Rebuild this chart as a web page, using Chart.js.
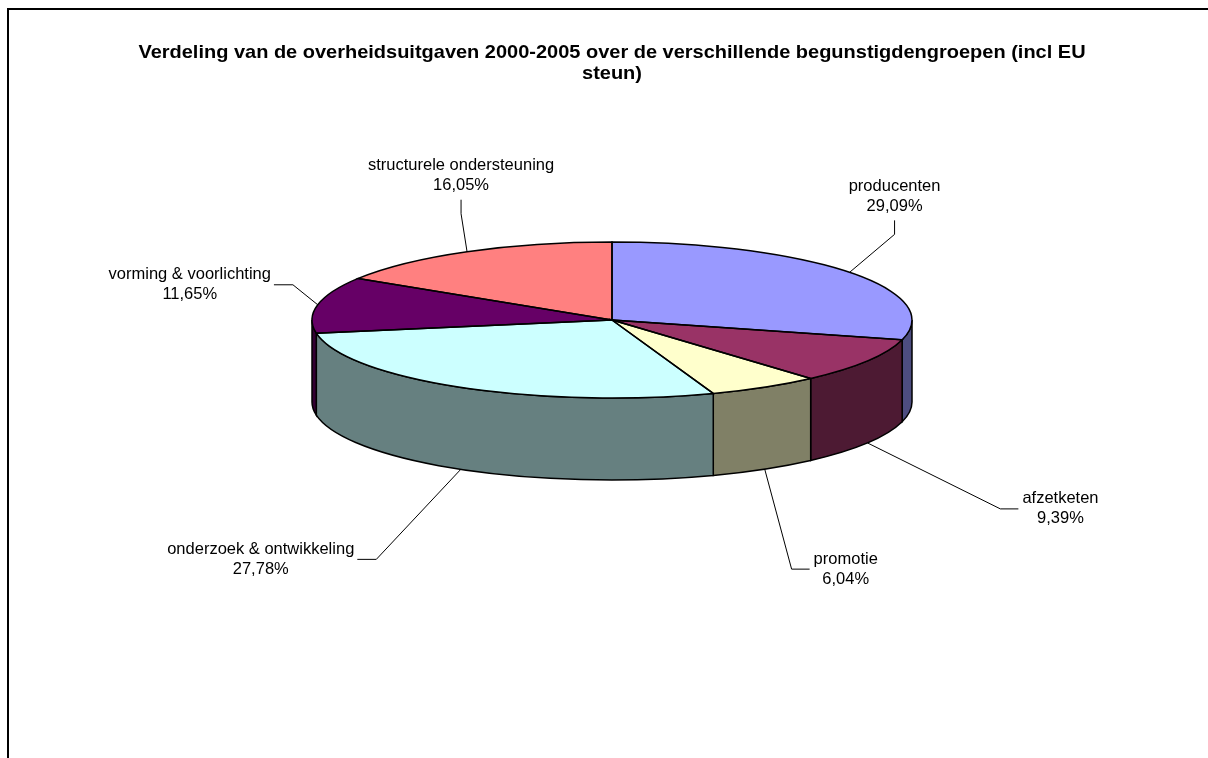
<!DOCTYPE html>
<html>
<head>
<meta charset="utf-8">
<script src="https://cdn.jsdelivr.net/npm/chart.js@4.4.1/dist/chart.umd.min.js"></script>
<style>
  html, body { margin: 0; padding: 0; background: #fff; }
  canvas { display: block; }
</style>
</head>
<body>
<canvas id="pieChart" width="1208" height="758"></canvas>
<script>
/* 3D-look pie: Chart.js lays out the arcs, a plugin squashes them into an
 * ellipse and adds the side walls, outlines and leader-line labels. */
var TITLE_LINES = [
  'Verdeling van de overheidsuitgaven 2000-2005 over de verschillende begunstigdengroepen (incl EU',
  'steun)'
];
var CATEGORIES = [
  'producenten',
  'afzetketen',
  'promotie',
  'onderzoek & ontwikkeling',
  'vorming & voorlichting',
  'structurele ondersteuning'
];
var SHARES = [29.09, 9.39, 6.04, 27.78, 11.65, 16.05];
var TOP_COLOURS = ['#9999FF', '#993366', '#FFFFCC', '#CCFFFF', '#660066', '#FF8080'];
var SIDE_COLOURS = ['#4D4D80', '#4D1A33', '#808066', '#668080', '#330033', '#804040'];

// label centre relative to its rim anchor, and the edge the leader enters
var LABEL_PLACES = [
  { dx: 45, dy: -76, edge: 'below' },
  { dx: 193, dy: 66, edge: 'left' },
  { dx: 81, dy: 100, edge: 'left' },
  { dx: -200, dy: 90, edge: 'right' },
  { dx: -128, dy: -20, edge: 'right' },
  { dx: -6, dy: -76, edge: 'below' }
];

var TILT = 0.26;      // vertical squash of the pie top
var DEPTH = 82;       // wall height in px
var FONT = '"Liberation Sans", Arial, sans-serif';

function fmtPct(v, total) {
  return (v / total * 100).toFixed(2).replace('.', ',') + '%';
}

function arcsOf(chart) {
  return chart.getDatasetMeta(0).data.map(function (el) {
    return el.getProps(['x', 'y', 'startAngle', 'endAngle', 'outerRadius'], true);
  });
}

var pie3d = {
  id: 'pie3d',
  beforeDraw: function (chart) {
    var ctx = chart.ctx;
    ctx.save();
    ctx.fillStyle = '#fff';
    ctx.fillRect(0, 0, chart.width, chart.height);
    ctx.lineWidth = 2;
    ctx.strokeStyle = '#000';
    ctx.strokeRect(8, 9, chart.width + 40, chart.height + 40);

    // the original title is set slightly wide: stretch it a touch
    var mid = arcsOf(chart)[0].x;
    ctx.translate(mid, 0);
    ctx.scale(1.08, 1);
    ctx.fillStyle = '#000';
    ctx.font = 'bold 18.5px ' + FONT;
    ctx.textAlign = 'center';
    ctx.textBaseline = 'middle';
    TITLE_LINES.forEach(function (line, i) {
      ctx.fillText(line, 0, 53 + i * 21);
    });
    ctx.restore();
  },
  beforeDatasetsDraw: function (chart) {
    var ctx = chart.ctx;
    var arcs = arcsOf(chart);
    // front walls: only the part of each slice between 0 and PI faces us
    arcs.forEach(function (a, i) {
      var s = Math.max(a.startAngle, 0), e = Math.min(a.endAngle, Math.PI);
      if (s >= e) return;
      ctx.save();
      ctx.translate(a.x, a.y);
      ctx.scale(1, TILT);
      ctx.beginPath();
      ctx.arc(0, 0, a.outerRadius, s, e);
      ctx.arc(0, DEPTH / TILT, a.outerRadius, e, s, true);
      ctx.closePath();
      ctx.restore();
      ctx.fillStyle = SIDE_COLOURS[i];
      ctx.fill();
      ctx.lineWidth = 1.5;
      ctx.strokeStyle = '#000';
      ctx.stroke();
    });
    var c = arcs[0];
    ctx.save();
    ctx.translate(c.x, c.y);
    ctx.scale(1, TILT);
    ctx.translate(-c.x, -c.y);
  },
  afterDatasetsDraw: function (chart) {
    var ctx = chart.ctx;
    ctx.restore();
    var arcs = arcsOf(chart);
    var total = SHARES.reduce(function (s, v) { return s + v; }, 0);

    arcs.forEach(function (a) {
      ctx.save();
      ctx.translate(a.x, a.y);
      ctx.scale(1, TILT);
      ctx.beginPath();
      ctx.moveTo(0, 0);
      ctx.arc(0, 0, a.outerRadius, a.startAngle, a.endAngle);
      ctx.closePath();
      ctx.restore();
      ctx.lineWidth = 1.5;
      ctx.strokeStyle = '#000';
      ctx.stroke();
    });

    ctx.save();
    ctx.font = '16.5px ' + FONT;
    ctx.textAlign = 'center';
    ctx.textBaseline = 'middle';
    ctx.fillStyle = '#000';
    ctx.strokeStyle = '#000';
    ctx.lineWidth = 1;
    arcs.forEach(function (a, i) {
      var m = (a.startAngle + a.endAngle) / 2;
      var front = m > 0 && m < Math.PI;
      var ax = a.x + a.outerRadius * Math.cos(m);
      var ay = a.y + a.outerRadius * TILT * Math.sin(m) + (front ? DEPTH : 0);
      var p = LABEL_PLACES[i];
      var lx = ax + p.dx, ly = ay + p.dy;
      var lines = [CATEGORIES[i], fmtPct(SHARES[i], total)];
      var w = Math.max(ctx.measureText(lines[0]).width, ctx.measureText(lines[1]).width);

      var stub;
      if (p.edge === 'below') stub = [[lx, ly + 24], [lx, ly + 38]];
      else if (p.edge === 'left') stub = [[lx - w / 2 - 4, ly], [lx - w / 2 - 22, ly]];
      else stub = [[lx + w / 2 + 3, ly], [lx + w / 2 + 22, ly]];
      ctx.beginPath();
      ctx.moveTo(stub[0][0], stub[0][1]);
      ctx.lineTo(stub[1][0], stub[1][1]);
      ctx.lineTo(ax, ay);
      ctx.stroke();

      ctx.fillText(lines[0], lx, ly - 10);
      ctx.fillText(lines[1], lx, ly + 10);
    });
    ctx.restore();
  }
};

new Chart(document.getElementById('pieChart').getContext('2d'), {
  type: 'pie',
  data: {
    labels: CATEGORIES,
    datasets: [{
      data: SHARES,
      backgroundColor: TOP_COLOURS,
      borderWidth: 0,
      clip: false
    }]
  },
  options: {
    responsive: false,
    animation: false,
    events: [],
    radius: 300,
    layout: { padding: { left: 312, right: 296, top: 20, bottom: 138 } },
    plugins: {
      legend: { display: false },
      tooltip: { enabled: false },
      title: { display: false }
    }
  },
  plugins: [pie3d]
});
</script>
</body>
</html>
